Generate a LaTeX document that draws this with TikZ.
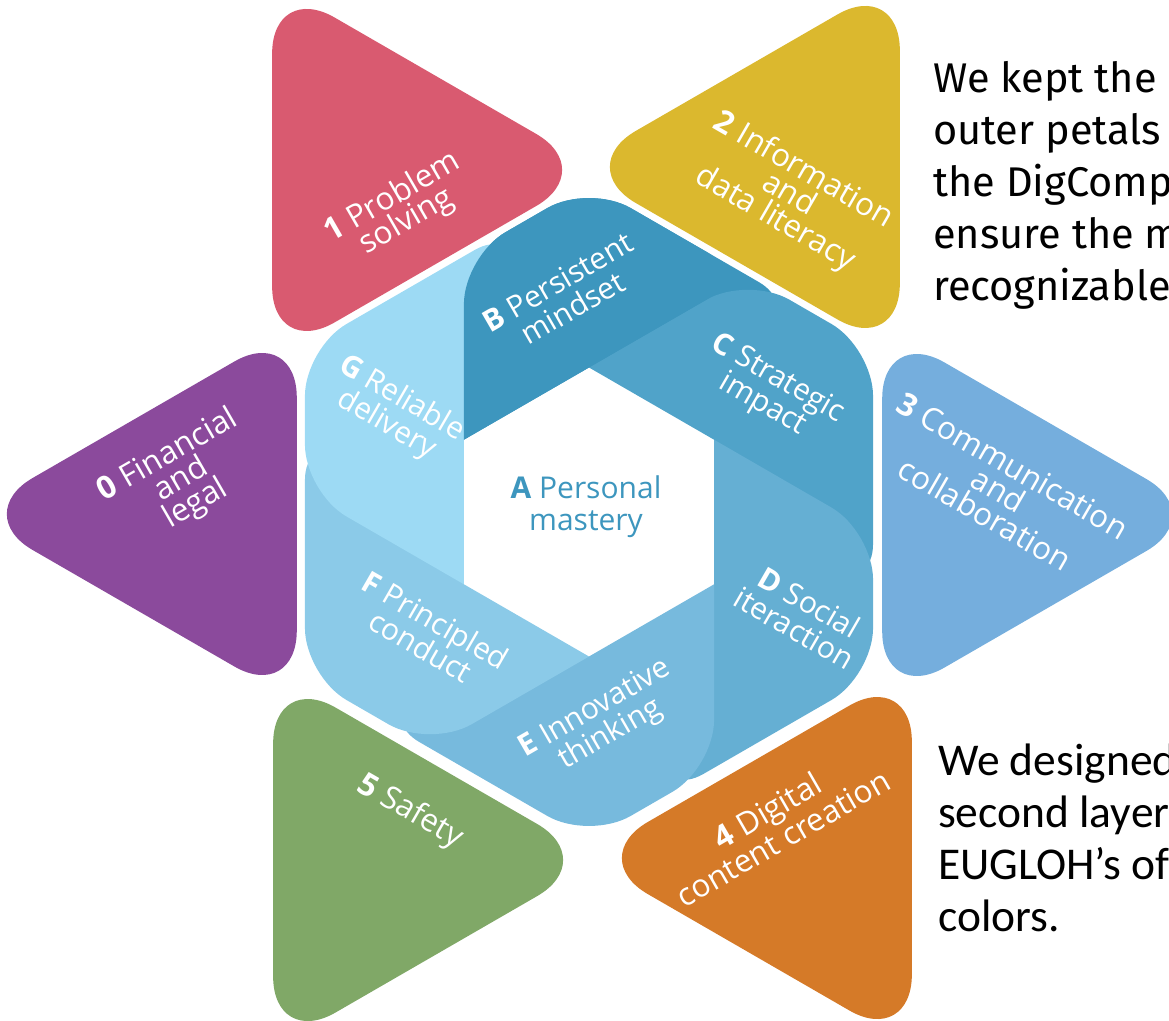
\documentclass[tikz,border=0pt]{standalone}
\usepackage{fontspec}
\setmainfont{Open Sans}
\newfontfamily\notefont{Fira Sans}
\newfontfamily\notefonttwo{Carlito}
\definecolor{petalred}{RGB}{217,90,112}
\definecolor{petalyellow}{RGB}{219,184,46}
\definecolor{petalpurple}{RGB}{139,74,156}
\definecolor{petalblue}{RGB}{117,174,221}
\definecolor{petalgreen}{RGB}{128,168,103}
\definecolor{petalorange}{RGB}{213,122,40}
\definecolor{bandB}{RGB}{61,150,190}
\definecolor{bandC}{RGB}{80,163,201}
\definecolor{bandD}{RGB}{101,175,211}
\definecolor{bandE}{RGB}{119,186,221}
\definecolor{bandF}{RGB}{139,202,232}
\definecolor{bandG}{RGB}{157,218,244}

\begin{document}
\begin{tikzpicture}[x=1pt,y=1pt,
        lbl/.style={text=white,align=center,inner sep=0pt,font=\fontsize{30}{30}\selectfont},
        plbl/.style={lbl,font=\fontsize{31.5}{28}\selectfont},
        note/.style={anchor=base west,inner sep=0pt,font=\notefont\fontsize{41.5}{52}\selectfont},
        notetwo/.style={anchor=base west,inner sep=0pt,font=\notefonttwo\fontsize{45.5}{52}\selectfont}]
    \useasboundingbox (-589,-508) rectangle (580,512);

    \foreach \ang/\cx/\cy/\col in {120/-208/342/petalred, 60/202/345/petalyellow, 180/-401/-2/petalpurple, 0/402/-3/petalblue, 240/-207/-348/petalgreen, 300/214/-346/petalorange}
        \fill[\col,rounded corners=72] (\cx,\cy) ++(\ang:217.7) -- ++({\ang+150}:377) -- ++({\ang+270}:377) -- cycle;

    \foreach \k/\col in {0/bandB,1/bandC,2/bandD,3/bandE,4/bandF,5/bandG}
        \fill[\col,rotate=-60*\k] (150:144.5) [rounded corners=48] -- (116.06:284.75) -- (90:328) -- (44.36:295) [sharp corners] -- (90:144.5) -- cycle;
    \fill[bandB] (150:144.5) [rounded corners=48] -- (116.06:284.75) -- (90:328) -- (56.06:284.75) [sharp corners] -- (90:144.5) -- cycle;

    \node[text=bandB,align=center,inner sep=0pt,font=\fontsize{30}{32}\selectfont] (lA) at (-3,5) {\textbf{A} Personal\\mastery};
    \node[lbl,rotate=30] (lB) at (-24,217) {\textbf{B} Persistent\\mindset};
    \node[lbl,rotate=-30] (lC) at (181,120) {\textbf{C} Strategic\\impact};
    \node[lbl,rotate=-30] (lD) at (213,-103) {\textbf{D} Social\\iteraction};
    \node[lbl,rotate=30] (lE) at (14,-210) {\textbf{E} Innovative\\thinking};
    \node[lbl,rotate=-30] (lF) at (-161,-121) {\textbf{F} Principled\\conduct};
    \node[lbl,rotate=-30] (lG) at (-195,100) {\textbf{G} Reliable\\delivery};

    \node[plbl,rotate=30] (l0) at (-407,32) {\textbf{0} Financial\\and\\legal};
    \node[plbl,rotate=30] (l1) at (-189,302) {\textbf{1} Problem\\solving};
    \node[plbl,rotate=-30] (l2) at (200,317) {\textbf{2} Information\\and\\data literacy};
    \node[plbl,rotate=-30] (l3) at (410,22) {\textbf{3} Communication\\and\\collaboration};
    \node[plbl,rotate=30] (l4) at (186,-312) {\textbf{4} Digital\\content creation};
    \node[plbl,rotate=-30] (l5) at (-179,-300) {\textbf{5} Safety};

    \foreach \t [count=\i] in {We kept the c, outer petals f, the DigComp, ensure the m, recognizable}
        \node[note] (n\i) at (344,{471-52*\i}) {\t};
    \foreach \t [count=\i] in {We designed, second layer, EUGLOH’s of, colors.}
        \node[notetwo] (m\i) at (349,{-211-52*\i}) {\t};
\end{tikzpicture}
\end{document}
